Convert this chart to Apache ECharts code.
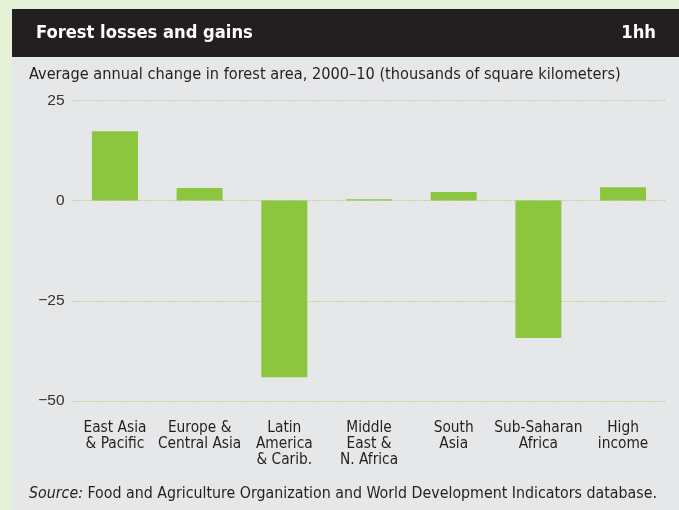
<!DOCTYPE html>
<html>
<head>
<meta charset="utf-8">
<script src="https://cdn.jsdelivr.net/npm/echarts@6/dist/echarts.min.js"></script>
<style>
  html, body { margin: 0; padding: 0; background: #e5f2d6; }
  #chart { width: 679px; height: 510px; }
</style>
</head>
<body>
<div id="chart"></div>
<script>
// Regions and their average annual change in forest area, 2000–10
const categories = [
  'East Asia\n& Pacific',
  'Europe &\nCentral Asia',
  'Latin\nAmerica\n& Carib.',
  'Middle\nEast &\nN. Africa',
  'South\nAsia',
  'Sub-Saharan\nAfrica',
  'High\nincome'
];
const forestChange = [17.3, 3.1, -44.1, 0.3, 2.1, -34.3, 3.3];
const yTicks = [-50, -25, 0, 25];

const chartTitle = 'Forest losses and gains';
const chartTag = '1hh';
const subtitle = 'Average annual change in forest area, 2000–10 (thousands of square kilometers)';
const sourceNote = 'Food and Agriculture Organization and World Development Indicators database.';

const narrow = '"Liberation Sans Narrow", "DejaVu Sans Condensed", "Roboto Condensed", sans-serif';
const green = '#8cc63f';

const chart = echarts.init(document.getElementById('chart'));
chart.setOption({
  backgroundColor: '#e5f2d6',
  animation: false,
  graphic: [
    { type: 'rect', z: -10, silent: true,
      shape: { x: 12, y: 57, width: 667, height: 453 },
      style: { fill: '#e6e7e9' } },
    { type: 'rect', z: -10, silent: true,
      shape: { x: 12, y: 9, width: 667, height: 48 },
      style: { fill: '#231f20' } },
    { type: 'text', left: 36, top: 24,
      style: { text: chartTitle, fill: '#ffffff', font: 'bold 18.2px ' + narrow } },
    { type: 'text', right: 23, top: 24,
      style: { text: chartTag, fill: '#ffffff', font: 'bold 18.2px ' + narrow } },
    { type: 'text', left: 29, top: 67,
      style: { text: subtitle, fill: '#231f20', font: '16.2px ' + narrow } },
    { type: 'text', left: 29, top: 486,
      style: {
        text: '{i|Source:} ' + sourceNote,
        fill: '#231f20', font: '15.8px ' + narrow,
        rich: { i: { fontStyle: 'italic', fontFamily: narrow, fontSize: 15.8, fill: '#231f20' } }
      } }
  ],
  grid: { left: 72.6, right: 13.6, top: 100.3, bottom: 109 },
  xAxis: {
    type: 'category',
    data: categories,
    axisLine: { show: false, onZero: false },
    axisTick: { show: false },
    axisLabel: {
      margin: 19, interval: 0, color: '#231f20',
      fontFamily: narrow, fontSize: 15.3, lineHeight: 16
    }
  },
  yAxis: {
    type: 'value',
    min: yTicks[0], max: yTicks[yTicks.length - 1], interval: 25,
    axisLine: { show: false },
    axisTick: { show: false },
    axisLabel: {
      margin: 8, color: '#333333',
      fontFamily: '"Liberation Sans", Arial, sans-serif', fontSize: 15.5,
      formatter: v => (v < 0 ? '\u2212' + Math.abs(v) : String(v))
    },
    splitLine: {
      lineStyle: { color: green, type: [1, 2], width: 1 }
    }
  },
  series: [{
    type: 'bar',
    data: forestChange,
    barWidth: 46,
    itemStyle: { color: green }
  }]
});
</script>
</body>
</html>
